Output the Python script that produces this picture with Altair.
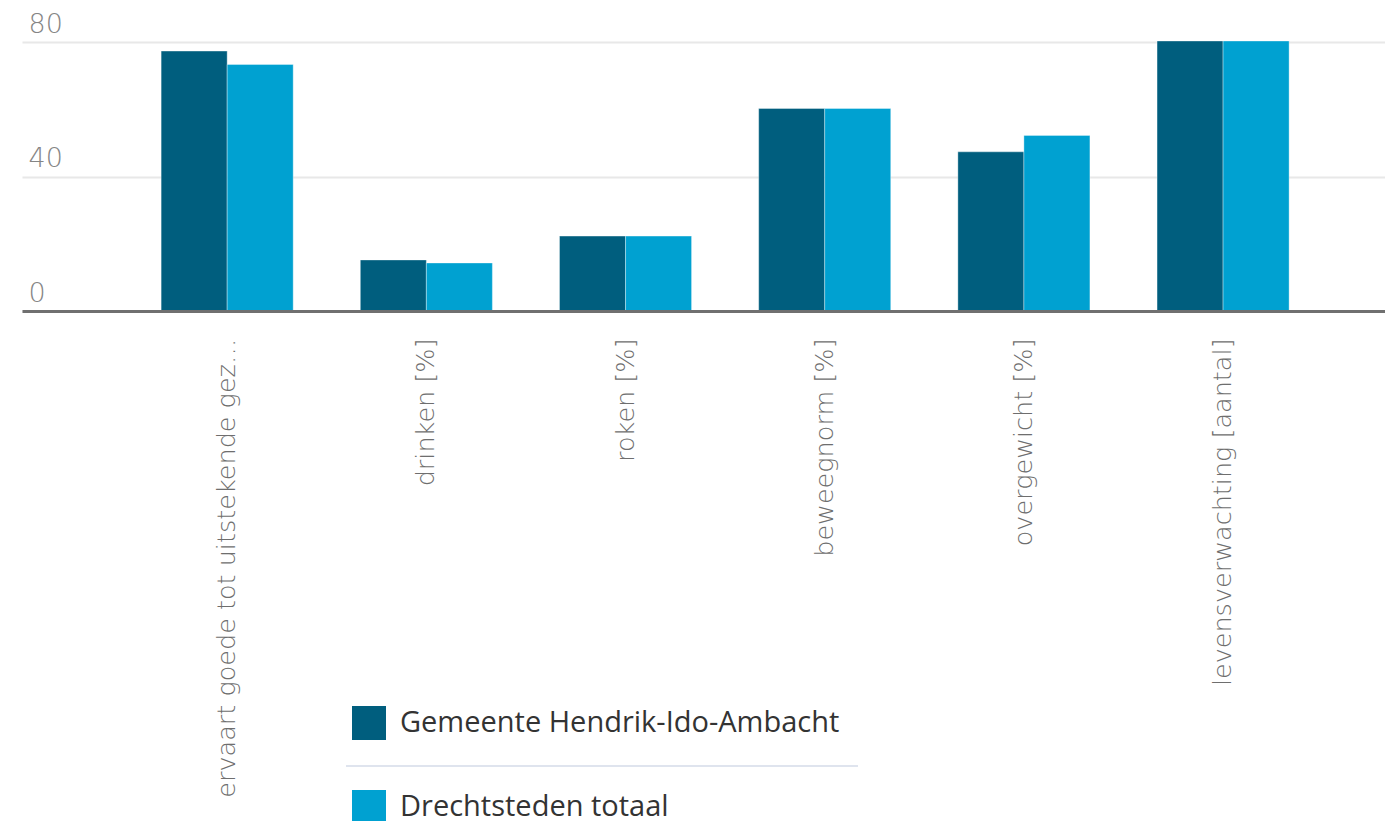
import altair as alt
import pandas as pd

categories = [
    "ervaart goede tot uitstekende gez\u2026",
    "drinken [%]",
    "roken [%]",
    "beweegnorm [%]",
    "overgewicht [%]",
    "levensverwachting [aantal]",
]
series_names = ["Gemeente Hendrik-Ido-Ambacht", "Drechtsteden totaal"]
gemeente_values = [77.4, 15.2, 22.3, 60.3, 47.4, 80.4]
drechtsteden_values = [73.4, 14.3, 22.3, 60.3, 52.3, 80.4]
series_colors = ["#005e7e", "#00a1d1"]
y_ticks = [0, 40, 80]

rows = []
for c, g, d in zip(categories, gemeente_values, drechtsteden_values):
    rows.append({"categorie": c, "reeks": series_names[0], "waarde": g})
    rows.append({"categorie": c, "reeks": series_names[1], "waarde": d})
df = pd.DataFrame(rows)

bars = alt.Chart(df).mark_bar(stroke="white", strokeWidth=1, strokeOpacity=0.35).encode(
    x=alt.X(
        "categorie:N",
        sort=categories,
        title=None,
        scale=alt.Scale(paddingInner=0.337, paddingOuter=0.59, align=0.592),
        axis=alt.Axis(
            labelAngle=270,
            labelFontSize=25.5,
            labelFontWeight=200,
            labelColor="#6e6e6e",
            labelFont="DejaVu Sans",
            labelPadding=27,
            ticks=True,
            tickSize=0,
            domainColor="#707070",
            domainWidth=3,
            labelLimit=700,
            grid=False,
            zindex=1,
        ),
    ),
    xOffset=alt.XOffset("reeks:N", sort=series_names,
                        scale=alt.Scale(paddingInner=0, paddingOuter=0)),
    y=alt.Y(
        "waarde:Q",
        title=None,
        scale=alt.Scale(domain=[0, 81], nice=False),
        axis=alt.Axis(
            values=y_ticks,
            domain=False,
            ticks=True,
            tickSize=0,
            labelAlign="left",
            labelBaseline="alphabetic",
            labelPadding=-6,
            labelOffset=-10,
            labelFontSize=27,
            labelFontWeight=200,
            labelColor="#858585",
            labelFont="DejaVu Sans",
            labelFlush=False,
            gridColor="#e8e8e8",
            gridWidth=2,
        ),
    ),
    color=alt.Color(
        "reeks:N",
        sort=series_names,
        scale=alt.Scale(domain=series_names, range=series_colors),
        legend=alt.Legend(
            title=None,
            orient="none",
            legendX=330,
            legendY=667,
            direction="vertical",
            symbolType="square",
            symbolSize=1156,
            symbolStrokeWidth=0,
            symbolOpacity=1,
            labelFontSize=29,
            labelColor="#333333",
            labelFont="Open Sans",
            labelOffset=14,
            rowPadding=50,
            padding=0,
            labelLimit=800,
        ),
    ),
)

separator = alt.Chart(pd.DataFrame({"a": [0]})).mark_rule(
    color="#d5dbe8", strokeWidth=1.5
).encode(
    x=alt.value(324), x2=alt.value(836), y=alt.value(727)
)

chart = alt.layer(bars, separator).properties(
    width=1363,
    height=272,
    padding={"left": 14, "top": 31, "right": 0, "bottom": 510},
    autosize=alt.AutoSizeParams(type="none"),
).configure_view(stroke=None)

chart.save("out.html", embed_options={"renderer": "svg", "actions": False})
